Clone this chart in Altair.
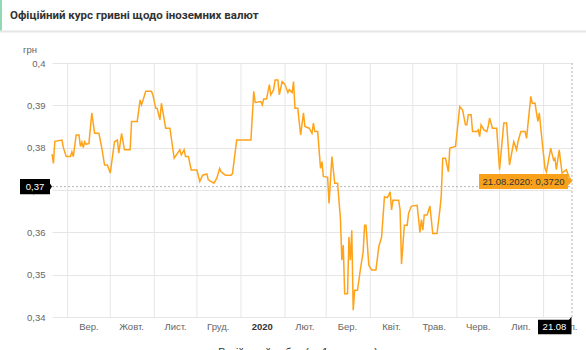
import altair as alt
import pandas as pd

# ---------------- data ----------------
TITLE = "Офіційний курс гривні щодо іноземних валют"
UNIT = "грн"
SERIES = "Російський рубль (за 1 одиницю)"

dates = [
    "2019-08-21", "2019-08-22", "2019-08-23", "2019-08-28", "2019-08-29", "2019-08-31",
    "2019-09-03", "2019-09-04", "2019-09-05", "2019-09-07", "2019-09-09", "2019-09-10", "2019-09-11",
    "2019-09-12", "2019-09-13", "2019-09-14", "2019-09-16", "2019-09-18", "2019-09-20", "2019-09-23",
    "2019-09-25", "2019-09-27", "2019-09-29",
    "2019-10-01", "2019-10-04", "2019-10-06", "2019-10-07", "2019-10-09", "2019-10-11", "2019-10-15",
    "2019-10-16", "2019-10-20", "2019-10-22", "2019-10-23", "2019-10-26", "2019-10-30", "2019-10-31",
    "2019-11-02", "2019-11-03", "2019-11-05", "2019-11-06", "2019-11-09", "2019-11-12", "2019-11-15",
    "2019-11-19", "2019-11-20", "2019-11-22", "2019-11-23", "2019-11-25", "2019-11-27",
    "2019-12-01", "2019-12-03", "2019-12-05", "2019-12-08", "2019-12-09", "2019-12-11", "2019-12-13",
    "2019-12-15", "2019-12-17", "2019-12-18", "2019-12-21", "2019-12-25", "2019-12-26", "2019-12-29",
    "2020-01-08", "2020-01-10", "2020-01-11", "2020-01-15", "2020-01-16", "2020-01-17", "2020-01-19",
    "2020-01-21", "2020-01-22", "2020-01-24", "2020-01-25", "2020-01-27", "2020-01-28", "2020-01-30",
    "2020-02-01", "2020-02-03", "2020-02-04", "2020-02-06", "2020-02-07", "2020-02-08", "2020-02-10",
    "2020-02-12", "2020-02-14", "2020-02-15", "2020-02-18", "2020-02-20", "2020-02-21", "2020-02-22",
    "2020-02-24", "2020-02-26", "2020-02-27", "2020-02-28",
    "2020-03-02", "2020-03-03", "2020-03-05", "2020-03-07", "2020-03-09", "2020-03-11", "2020-03-12",
    "2020-03-13", "2020-03-14", "2020-03-16", "2020-03-17", "2020-03-18", "2020-03-19", "2020-03-20",
    "2020-03-21", "2020-03-23", "2020-03-25", "2020-03-27", "2020-03-28", "2020-03-29", "2020-03-31",
    "2020-04-02", "2020-04-05", "2020-04-07", "2020-04-09", "2020-04-11", "2020-04-13", "2020-04-14",
    "2020-04-15", "2020-04-16", "2020-04-17", "2020-04-21", "2020-04-22", "2020-04-23", "2020-04-25",
    "2020-04-27", "2020-04-28", "2020-04-30",
    "2020-05-04", "2020-05-06", "2020-05-07", "2020-05-08", "2020-05-09", "2020-05-11", "2020-05-13",
    "2020-05-15", "2020-05-18", "2020-05-20", "2020-05-21", "2020-05-22", "2020-05-24", "2020-05-26",
    "2020-05-27", "2020-05-31",
    "2020-06-01", "2020-06-03", "2020-06-05", "2020-06-07", "2020-06-08", "2020-06-09", "2020-06-11",
    "2020-06-12", "2020-06-15", "2020-06-16", "2020-06-17", "2020-06-18", "2020-06-20", "2020-06-22",
    "2020-06-23", "2020-06-24", "2020-06-26", "2020-06-29",
    "2020-07-01", "2020-07-04", "2020-07-06", "2020-07-08", "2020-07-11", "2020-07-13", "2020-07-14",
    "2020-07-16", "2020-07-19", "2020-07-20", "2020-07-23", "2020-07-24", "2020-07-26", "2020-07-27",
    "2020-07-28", "2020-07-29", "2020-07-31",
    "2020-08-02", "2020-08-03", "2020-08-06", "2020-08-08", "2020-08-09", "2020-08-10", "2020-08-12",
    "2020-08-14", "2020-08-17", "2020-08-19", "2020-08-21",
]

values = [
    0.3785, 0.3763, 0.3815, 0.3818, 0.3800, 0.3779,
    0.3779, 0.3790, 0.3779, 0.3830, 0.3830, 0.3803, 0.3813,
    0.3800, 0.3814, 0.3808, 0.3810, 0.3882, 0.3834, 0.3834,
    0.3800, 0.3759, 0.3759,
    0.3740, 0.3814, 0.3818, 0.3787, 0.3834, 0.3795, 0.3795,
    0.3862, 0.3862, 0.3913, 0.3901, 0.3933, 0.3933, 0.3925,
    0.3893, 0.3893, 0.3866, 0.3905, 0.3846, 0.3846, 0.3775,
    0.3795, 0.3783, 0.3795, 0.3779, 0.3779, 0.3747,
    0.3747, 0.3720, 0.3735, 0.3738, 0.3724, 0.3720, 0.3716,
    0.3728, 0.3751, 0.3743, 0.3735, 0.3735, 0.3738, 0.3818,
    0.3818, 0.3933, 0.3907, 0.3909, 0.3901, 0.3915, 0.3915,
    0.3949, 0.3925, 0.3937, 0.3960, 0.3960, 0.3925, 0.3956,
    0.3949, 0.3930, 0.3937, 0.3930, 0.3956, 0.3893, 0.3893,
    0.3830, 0.3882, 0.3850, 0.3846, 0.3834, 0.3858, 0.3838,
    0.3838, 0.3751, 0.3767, 0.3732,
    0.3730, 0.3668, 0.3779, 0.3716, 0.3716, 0.3633, 0.3534,
    0.3570, 0.3455, 0.3455, 0.3589, 0.3534, 0.3605, 0.3416,
    0.3463, 0.3463, 0.3511, 0.3554, 0.3617, 0.3617, 0.3522,
    0.3511, 0.3511, 0.3566, 0.3589, 0.3684, 0.3682, 0.3688,
    0.3696, 0.3653, 0.3676, 0.3676, 0.3653, 0.3525, 0.3617,
    0.3617, 0.3645, 0.3662,
    0.3664, 0.3600, 0.3630, 0.3605, 0.3641, 0.3641, 0.3662,
    0.3597, 0.3597, 0.3653, 0.3688, 0.3775, 0.3775, 0.3743,
    0.3799, 0.3803,
    0.3834, 0.3897, 0.3889, 0.3854, 0.3854, 0.3878, 0.3878,
    0.3838, 0.3838, 0.3842, 0.3826, 0.3854, 0.3842, 0.3838,
    0.3850, 0.3870, 0.3846, 0.3846,
    0.3748, 0.3858, 0.3858, 0.3759, 0.3814, 0.3795, 0.3814,
    0.3838, 0.3838, 0.3822, 0.3921, 0.3905, 0.3905, 0.3882,
    0.3862, 0.3882, 0.3814,
    0.3751, 0.3743, 0.3799, 0.3771, 0.3775, 0.3748, 0.3795,
    0.3740, 0.3748, 0.3730, 0.3720,
]

month_starts = [
    "2019-09-01", "2019-10-01", "2019-11-01", "2019-12-01", "2020-01-01", "2020-02-01",
    "2020-03-01", "2020-04-01", "2020-05-01", "2020-06-01", "2020-07-01", "2020-08-01",
]
label_dates = [
    "2019-09-16", "2019-10-16", "2019-11-16", "2019-12-16", "2020-01-16", "2020-02-15",
    "2020-03-16", "2020-04-16", "2020-05-16", "2020-06-16", "2020-07-16", "2020-08-16",
]
month_labels = ["Вер.", "Жовт.", "Лист.", "Груд.", "2020", "Лют.", "Бер.", "Квіт.",
                "Трав.", "Черв.", "Лип.", "Серп."]
label_bold = [False, False, False, False, True, False, False, False, False, False, False, False]

y_ticks = [0.34, 0.35, 0.36, 0.37, 0.38, 0.39, 0.40]

current_date = ["2020-08-21"]
current_value = [0.3720]
crosshair_value = [0.3708]
crosshair_y_label = ["0,37"]
crosshair_x_label = ["21.08"]
tooltip_text = ["21.08.2020: 0,3720"]

# ---------------- styling ----------------
ORANGE = "#FFA31A"
TIP = "#F9A11B"
GRID = "#e6e6e6"
LABEL = "#666666"
FONT = "Liberation Sans"
W, H = 520, 254

df = pd.DataFrame({"date": dates, "value": values})
grid_df = pd.DataFrame({"date": month_starts})
lab_df = pd.DataFrame({"date": label_dates, "label": month_labels, "bold": label_bold})
cur_df = pd.DataFrame({
    "date": current_date, "value": current_value, "cross": crosshair_value,
    "ylab": crosshair_y_label, "xlab": crosshair_x_label, "tip": tooltip_text,
})

x_scale = alt.Scale(
    type="utc",
    domain=[alt.DateTime(year=2019, month=8, date=21, utc=True),
            alt.DateTime(year=2020, month=8, date=21, utc=True)],
)
y_scale = alt.Scale(domain=[0.34, 0.40], nice=False, zero=False)

vgrid = alt.Chart(grid_df).mark_rule(color=GRID, strokeWidth=1).encode(
    x=alt.X("date:T", scale=x_scale, axis=None),
    y=alt.value(0), y2=alt.value(H),
)

line = alt.Chart(df).mark_line(color=ORANGE, strokeWidth=1.5).encode(
    x=alt.X("date:T", scale=x_scale, axis=None),
    y=alt.Y("value:Q", scale=y_scale, axis=alt.Axis(
        values=y_ticks,
        labelExpr="replace(format(datum.value, '.2~f'), '.', ',')",
        grid=True, gridColor=GRID, domain=False, ticks=False,
        labelFontSize=9.5, labelColor=LABEL, labelFont=FONT, labelPadding=7, title=None,
    )),
)

labels_reg = alt.Chart(lab_df).transform_filter("!datum.bold").mark_text(
    font=FONT, fontSize=9.5, color=LABEL, baseline="middle", align="center"
).encode(x="date:T", y=alt.value(H + 10), text="label:N")

labels_bold = alt.Chart(lab_df).transform_filter("datum.bold").mark_text(
    font=FONT, fontSize=9.5, fontWeight="bold", color="#333333", baseline="middle", align="center"
).encode(x="date:T", y=alt.value(H + 10), text="label:N")

hcross = alt.Chart(cur_df).mark_rule(color="#b5b5b5", strokeDash=[2, 2], strokeWidth=1).encode(
    y="cross:Q", x=alt.value(0), x2=alt.value(W)
)
vcross = alt.Chart(cur_df).mark_rule(color="#b5b5b5", strokeDash=[2, 2], strokeWidth=1).encode(
    x="date:T", y=alt.value(0), y2=alt.value(H)
)

# y crosshair label (black box with arrow)
ybox = alt.Chart(cur_df).mark_point(
    shape="M-1,-0.47L0.875,-0.47L0.875,-0.19L1,0L0.875,0.19L0.875,0.47L-1,0.47Z",
    filled=True, fill="#000000", fillOpacity=1, strokeWidth=0, size=1024, opacity=1,
).encode(x=alt.value(-16), y="cross:Q")
ytext = alt.Chart(cur_df).mark_text(
    font=FONT, fontSize=9.5, color="white", align="center", baseline="middle"
).encode(x=alt.value(-17), y="cross:Q", text="ylab:N")

# x crosshair label (black box)
xbox = alt.Chart(cur_df).mark_point(
    shape="M-1,-0.42L0.82,-0.42L0.97,-0.6L0.97,0.42L-1,0.42Z",
    filled=True, fill="#000000", fillOpacity=1, strokeWidth=0, size=1156, opacity=1,
    xOffset=-17,
).encode(x="date:T", y=alt.value(H + 10))
xtext = alt.Chart(cur_df).mark_text(
    font=FONT, fontSize=9.5, color="white", align="center", baseline="middle", dx=-17.5
).encode(x="date:T", y=alt.value(H + 10), text="xlab:N")

# tooltip
tipbox = alt.Chart(cur_df).mark_point(
    shape="M-1,-0.161L0.914,-0.161L0.914,-0.086L1,0L0.914,0.086L0.914,0.161L-1,0.161Z",
    filled=True, fill=TIP, fillOpacity=1, strokeWidth=0, size=8649, opacity=1,
    xOffset=-46.5,
).encode(x="date:T", y="value:Q")
tiptext = alt.Chart(cur_df).mark_text(
    font=FONT, fontSize=9.5, color="#333333", align="center", baseline="middle", dx=-48.5
).encode(x="date:T", y="value:Q", text="tip:N")

# header, unit, legend
one = pd.DataFrame({"t": [TITLE], "u": [UNIT], "s": [SERIES]})
header_line = alt.Chart(one).mark_rule(color="#e6e6e6", strokeWidth=2).encode(
    x=alt.value(-52), x2=alt.value(W + 14), y=alt.value(-31.5)
)
green_bar = alt.Chart(one).mark_rule(color="#8fd9b4", strokeWidth=2).encode(
    x=alt.value(-51), y=alt.value(-63), y2=alt.value(-32.5)
)
title = alt.Chart(one).mark_text(
    font="Roboto", fontSize=11.5, fontWeight="bold", color="#333333", align="left", baseline="middle"
).encode(x=alt.value(-42), y=alt.value(-47), text="t:N")
unit = alt.Chart(one).mark_text(
    font=FONT, fontSize=9.5, color=LABEL, align="center", baseline="middle"
).encode(x=alt.value(-22), y=alt.value(-13), text="u:N")
legend = alt.Chart(one).mark_text(
    font=FONT, fontSize=10.5, color="#333333", align="center", baseline="middle"
).encode(x=alt.value(246), y=alt.value(H + 36), text="s:N")

chart = alt.layer(
    vgrid, line, labels_reg, labels_bold, hcross, vcross,
    ybox, ytext, xbox, xtext, tipbox, tiptext,
    header_line, green_bar, title, unit, legend,
).properties(
    width=W, height=H,
    padding={"left": 52, "top": 63, "right": 14, "bottom": 33},
    autosize=alt.AutoSizeParams(type="none"),
    background="white",
).configure_view(stroke=None)

chart.save("out.html", embed_options={"renderer": "svg", "actions": False})
